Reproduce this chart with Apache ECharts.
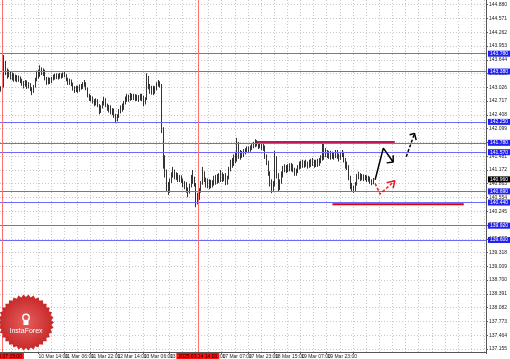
<!DOCTYPE html>
<html><head><meta charset="utf-8">
<script src="https://cdn.jsdelivr.net/npm/echarts@6/dist/echarts.min.js"></script>
<style>html,body{margin:0;padding:0;background:#fff;overflow:hidden}#c{width:510px;height:359px}</style>
</head><body><div id="c"></div>
<script>
// ---- data ----
const opens = [
143.00,142.97,143.05,143.55,143.40,143.30,143.35,143.27,143.30,143.22,143.26,143.20,
143.24,143.18,143.12,143.08,143.15,143.05,143.10,142.98,142.92,143.05,143.20,143.35,
143.30,143.42,143.36,143.40,143.22,143.12,143.20,143.15,143.22,143.28,143.25,143.30,
143.26,143.31,143.28,143.33,143.30,143.20,143.14,143.18,143.10,143.00,142.96,143.02,
142.95,143.05,143.02,143.10,143.12,143.00,142.84,142.78,142.80,142.72,142.68,142.74,
142.62,142.50,142.58,142.68,142.74,142.64,142.55,142.60,142.48,142.52,142.40,142.30,
142.38,142.50,142.58,142.55,142.68,142.76,142.82,142.75,142.84,142.80,142.84,142.78,
142.82,142.76,142.84,142.80,142.70,142.76,143.25,143.05,142.95,143.02,142.92,143.00,
143.10,143.12,143.06,142.05,141.40,141.10,140.80,140.70,140.92,141.05,141.15,141.02,
141.08,140.96,141.02,140.94,140.84,140.88,140.72,140.68,140.80,141.00,140.96,140.84,
140.52,140.58,140.70,140.88,141.10,140.96,140.86,140.92,140.80,140.90,140.86,140.98,
140.92,141.02,140.94,141.08,140.98,141.04,140.86,141.00,141.20,141.36,141.30,141.45,
141.40,141.62,141.48,141.56,141.50,141.58,141.60,141.64,141.62,141.68,141.72,141.74,
141.80,141.76,141.70,141.76,141.66,141.70,141.48,141.34,141.10,140.90,140.72,140.84,
141.45,141.05,140.80,140.90,141.08,141.18,141.22,141.16,141.24,141.20,141.26,141.18,
141.10,141.15,141.24,141.30,141.26,141.34,141.28,141.32,141.26,141.34,141.30,141.36,
141.28,141.34,141.30,141.38,141.42,141.72,141.50,141.58,141.50,141.56,141.46,141.52,
141.48,141.56,141.50,141.44,141.52,141.56,141.40,141.30,141.24,141.00,140.82,140.76,
140.72,140.86,141.02,141.08,140.98,141.04,140.98,141.02,140.96,141.00,140.92,140.88];
const closes = [
142.97,143.05,143.55,143.40,143.30,143.35,143.27,143.30,143.22,143.26,143.20,143.24,
143.18,143.12,143.08,143.15,143.05,143.10,142.98,142.92,143.05,143.20,143.35,143.30,
143.42,143.36,143.40,143.22,143.12,143.20,143.15,143.22,143.28,143.25,143.30,143.26,
143.31,143.28,143.33,143.30,143.20,143.14,143.18,143.10,143.00,142.96,143.02,142.95,
143.05,143.02,143.10,143.12,143.00,142.84,142.78,142.80,142.72,142.68,142.74,142.62,
142.50,142.58,142.68,142.74,142.64,142.55,142.60,142.48,142.52,142.40,142.30,142.38,
142.50,142.58,142.55,142.68,142.76,142.82,142.75,142.84,142.80,142.84,142.78,142.82,
142.76,142.84,142.80,142.70,142.76,143.25,143.05,142.95,143.02,142.92,143.00,143.10,
143.12,143.06,142.05,141.40,141.10,140.80,140.70,140.92,141.05,141.15,141.02,141.08,
140.96,141.02,140.94,140.84,140.88,140.72,140.68,140.80,141.00,140.96,140.84,140.52,
140.58,140.70,140.88,141.10,140.96,140.86,140.92,140.80,140.90,140.86,140.98,140.92,
141.02,140.94,141.08,140.98,141.04,140.86,141.00,141.20,141.36,141.30,141.45,141.40,
141.62,141.48,141.56,141.50,141.58,141.60,141.64,141.62,141.68,141.72,141.74,141.80,
141.76,141.70,141.76,141.66,141.70,141.48,141.34,141.10,140.90,140.72,140.84,141.45,
141.05,140.80,140.90,141.08,141.18,141.22,141.16,141.24,141.20,141.26,141.18,141.10,
141.15,141.24,141.30,141.26,141.34,141.28,141.32,141.26,141.34,141.30,141.36,141.28,
141.34,141.30,141.38,141.42,141.72,141.50,141.58,141.50,141.56,141.46,141.52,141.48,
141.56,141.50,141.44,141.52,141.56,141.40,141.30,141.24,141.00,140.82,140.76,140.72,
140.86,141.02,141.08,140.98,141.04,140.98,141.02,140.96,141.00,140.92,140.88,140.96];
const lows = [
142.93,142.95,143.02,143.30,143.22,143.25,143.20,143.18,143.15,143.16,143.14,143.15,
143.12,143.06,143.00,143.04,142.99,143.00,142.94,142.85,142.90,143.02,143.16,143.22,
143.26,143.30,143.28,143.18,143.08,143.09,143.10,143.12,143.18,143.20,143.21,143.20,
143.22,143.22,143.24,143.25,143.16,143.08,143.08,143.05,142.95,142.90,142.92,142.90,
142.93,142.97,142.99,143.04,142.96,142.80,142.72,142.71,142.66,142.60,142.62,142.58,
142.42,142.45,142.55,142.62,142.58,142.50,142.46,142.42,142.40,142.34,142.22,142.26,
142.34,142.44,142.48,142.52,142.64,142.70,142.70,142.72,142.74,142.74,142.72,142.72,
142.70,142.73,142.72,142.60,142.64,142.74,142.98,142.88,142.86,142.85,142.88,142.96,
143.04,143.02,142.00,141.20,141.00,140.68,140.61,140.66,140.88,141.00,140.96,140.95,
140.90,140.90,140.88,140.78,140.74,140.66,140.56,140.64,140.78,140.86,140.80,140.34,
140.40,140.50,140.66,140.84,140.90,140.78,140.76,140.74,140.76,140.78,140.82,140.84,
140.86,140.88,140.90,140.90,140.92,140.83,140.84,140.96,141.14,141.22,141.26,141.32,
141.36,141.42,141.40,141.44,141.46,141.52,141.55,141.56,141.58,141.62,141.66,141.68,
141.70,141.64,141.66,141.62,141.60,141.42,141.28,141.04,140.80,140.65,140.70,140.80,
140.98,140.68,140.72,140.86,141.00,141.12,141.10,141.12,141.14,141.14,141.12,141.04,
141.04,141.10,141.18,141.20,141.22,141.22,141.24,141.20,141.22,141.24,141.26,141.22,
141.24,141.24,141.26,141.32,141.38,141.40,141.46,141.44,141.42,141.40,141.42,141.40,
141.44,141.42,141.36,141.40,141.46,141.34,141.20,141.17,140.94,140.74,140.70,140.66,
140.68,140.82,140.96,140.92,140.94,140.92,140.94,140.90,140.91,140.86,140.83,140.85];
const highs = [
143.05,143.10,143.75,143.62,143.45,143.42,143.38,143.36,143.34,143.31,143.30,143.29,
143.27,143.22,143.17,143.19,143.18,143.14,143.12,143.03,143.08,143.24,143.40,143.42,
143.52,143.47,143.45,143.42,143.26,143.25,143.24,143.26,143.31,143.33,143.34,143.33,
143.35,143.34,143.36,143.38,143.32,143.24,143.22,143.20,143.13,143.05,143.06,143.06,
143.09,143.10,143.14,143.19,143.14,143.02,142.88,142.85,142.82,142.76,142.78,142.76,
142.65,142.62,142.72,142.81,142.78,142.66,142.63,142.62,142.56,142.55,142.43,142.42,
142.54,142.62,142.66,142.72,142.82,142.88,142.86,142.90,142.88,142.88,142.87,142.86,
142.85,142.88,142.88,142.84,142.80,143.34,143.28,143.10,143.06,143.06,143.05,143.14,
143.19,143.16,143.10,142.13,141.50,141.18,140.90,140.98,141.12,141.24,141.18,141.12,
141.10,141.06,141.05,140.98,140.92,140.90,140.78,140.86,141.06,141.17,141.02,140.88,
140.66,140.76,140.92,141.24,141.14,141.00,140.98,140.96,140.95,140.94,141.04,141.06,
141.08,141.10,141.17,141.12,141.08,141.10,141.04,141.24,141.40,141.44,141.52,141.58,
141.89,141.80,141.62,141.60,141.64,141.66,141.70,141.70,141.72,141.76,141.80,141.86,
141.84,141.80,141.82,141.80,141.76,141.72,141.52,141.38,141.14,140.96,140.92,141.60,
141.48,141.10,140.96,141.14,141.26,141.30,141.28,141.30,141.32,141.33,141.30,141.22,
141.20,141.28,141.36,141.38,141.40,141.38,141.40,141.36,141.40,141.42,141.44,141.40,
141.40,141.42,141.44,141.50,141.80,141.78,141.66,141.62,141.60,141.60,141.58,141.56,
141.62,141.62,141.54,141.58,141.62,141.58,141.44,141.36,141.28,141.04,140.88,140.82,
140.90,141.08,141.13,141.10,141.08,141.07,141.06,141.05,141.04,141.02,140.96,140.99];

const slotCount = 296;                       // hourly slots shown on the time axis
const categories = Array.from({length: slotCount}, (_, i) => String(i));
const xTickLabels = ['7 Mar 21:00','10 Mar 14:00','11 Mar 06:00','11 Mar 22:00','12 Mar 14:00',
  '13 Mar 06:00','13 Mar 22:00','14 Mar 14:00','17 Mar 07:00','17 Mar 23:00','18 Mar 15:00',
  '19 Mar 07:00','19 Mar 23:00','20 Mar 15:00'];
const xTickFirst = 7, xTickStep = 16;
const yTickValues = [137.155,137.464,137.773,138.082,138.391,138.700,139.009,139.318,139.627,139.936,
  140.245,140.554,140.863,141.172,141.481,141.790,142.099,142.408,142.717,143.026,143.335,143.644,
  143.953,144.262,144.571,144.880];
const yMin = 137.086, yMax = 144.985;
const blueLevels = [143.78,143.38,142.25,141.78,141.57,140.69,140.44,139.92,139.60];
const currentPrice = 140.96;
const redVerticals = [{slot:'1', label:'2025.03.07 15:00'},{slot:'120', label:'2025.03.14 14:00'}];
const resistanceSeg = [[156,141.80],[240,141.80]];
const supportSeg = [[202,140.40],[282,140.40]];
const solidArrowPath = [[228,140.95],[233,141.66],[239,141.35]];
const solidArrowHead = [[239,141.50],[239,141.35],[235,141.33]];
const dashArrowPath = [[247,141.47],[252,141.99]];
const dashArrowHead = [[249,141.96],[252,141.99],[253,141.84]];
const redArrowPath = [[228,140.87],[231,140.63],[240,140.93]];
const redArrowHead = [[235,140.885],[240,140.93],[239,140.76]];

// ---- chart ----
const ohlc = opens.map((o, i) => [o, closes[i], lows[i], highs[i]]);
const chart = echarts.init(document.getElementById('c'));
const FONT = 'Liberation Sans';
const isLabelSlot = i => i >= xTickFirst && (i - xTickFirst) % xTickStep === 0 && (i - xTickFirst) / xTickStep < xTickLabels.length;
const isGridSlot = i => (((i - xTickFirst) % 8) + 8) % 8 === 0;

const gearPts = [];
const gcx = 26, gcy = 322.5, teeth = 34;
for (let k = 0; k < teeth * 2; k++) {
  const r = k % 2 === 0 ? 28 : 25.5;
  const a = Math.PI * k / teeth;
  gearPts.push([gcx + r * Math.cos(a), gcy + r * Math.sin(a)]);
}

const lineSeries = (data, color, width, type, z) => ({
  type: 'line', data, symbol: 'none', silent: true, animation: false, z, zlevel: 1,
  lineStyle: {color, width, type}
});

chart.setOption({
  animation: false,
  backgroundColor: '#ffffff',
  grid: {left: 0, top: 0, width: 493.3, height: 352},
  xAxis: {
    type: 'category', data: categories, boundaryGap: true,
    axisLine: {show: true, lineStyle: {color: '#555', width: 1}},
    axisTick: {show: true, interval: (i) => isLabelSlot(i), length: 2, lineStyle: {color: '#555'}},
    axisLabel: {interval: (i) => isLabelSlot(i), formatter: (v, i) => xTickLabels[(i - xTickFirst) / xTickStep] || '',
      align: 'left', fontSize: 5, fontFamily: FONT, color: '#222', margin: 2},
    splitLine: {show: true, interval: (i) => isGridSlot(i), lineStyle: {color: '#c8c8c8', width: 1, type: [1, 2]}}
  },
  yAxis: {
    type: 'value', position: 'right', min: yMin, max: yMax, scale: true,
    axisLine: {show: true, lineStyle: {color: '#555', width: 1}},
    axisTick: {show: true, customValues: yTickValues, length: 2, lineStyle: {color: '#555'}},
    axisLabel: {customValues: yTickValues, formatter: v => v.toFixed(3), fontSize: 5, fontFamily: FONT, color: '#222', margin: 3},
    splitLine: {show: true, lineStyle: {color: '#c8c8c8', width: 1, type: [1, 2]}}
  },
  series: [
    {
      type: 'candlestick', data: ohlc, barWidth: 1.2, animation: false, z: 3,
      itemStyle: {color: '#000', color0: '#000', borderColor: '#000', borderColor0: '#000', borderWidth: 0.8},
      markLine: {
        silent: true, symbol: ['none', 'none'], animation: false, precision: 3,
        data: [
          ...blueLevels.map(v => ({yAxis: v, lineStyle: {color: '#6a6aff', width: 1, type: 'solid'},
            label: {show: true, position: 'end', distance: 2, formatter: v.toFixed(3), backgroundColor: '#2020f0',
              color: '#fff', fontSize: 5, fontFamily: FONT, padding: [1, 2, 0, 2]}})),
          {yAxis: currentPrice, lineStyle: {color: 'rgba(0,0,0,0)', width: 0},
            label: {show: true, position: 'end', distance: 2, formatter: currentPrice.toFixed(3), backgroundColor: '#000',
              color: '#fff', fontSize: 5, fontFamily: FONT, padding: [1, 2, 0, 2]}},
          ...redVerticals.map(r => ({xAxis: r.slot, lineStyle: {color: '#ff7070', width: 1, type: 'solid'},
            label: {show: true, position: 'start', distance: 1, formatter: r.label, backgroundColor: '#ff1010',
              color: '#000', fontSize: 5, fontFamily: FONT, padding: [1, 2, 0, 2]}}))
        ]
      }
    },
    lineSeries(resistanceSeg, '#c0185a', 2, 'solid', 5),
    lineSeries(supportSeg, '#e00000', 2, 'solid', 5),
    lineSeries(solidArrowPath, '#000', 1.5, 'solid', 6),
    lineSeries(solidArrowHead, '#000', 1.5, 'solid', 6),
    lineSeries(dashArrowPath, '#000', 1.5, [3, 2], 6),
    lineSeries(dashArrowHead, '#000', 1.5, 'solid', 6),
    lineSeries(redArrowPath, '#ee1c1c', 1.5, [3, 2], 6),
    lineSeries(redArrowHead, '#ee1c1c', 1.5, 'solid', 6)
  ],
  graphic: [
    {type: 'polygon', z: 50, shape: {points: gearPts},
      style: {fill: new echarts.graphic.RadialGradient(0.5, 0.5, 0.5, [{offset: 0, color: '#e85e5e'}, {offset: 1, color: '#c62828'}])}},
    {type: 'circle', z: 51, shape: {cx: 26, cy: 317.5, r: 3.2}, style: {fill: 'none', stroke: '#fff', lineWidth: 1.4}},
    {type: 'rect', z: 51, shape: {x: 23.5, y: 321, width: 5, height: 4}, style: {fill: '#fff'}},
    {type: 'text', z: 51, x: 26, y: 331.5, style: {text: 'InstaForex', fill: '#fff', fontSize: 7, fontFamily: FONT,
      align: 'center', verticalAlign: 'middle', textAlign: 'center', textVerticalAlign: 'middle'}}
  ]
});
</script>
</body></html>
